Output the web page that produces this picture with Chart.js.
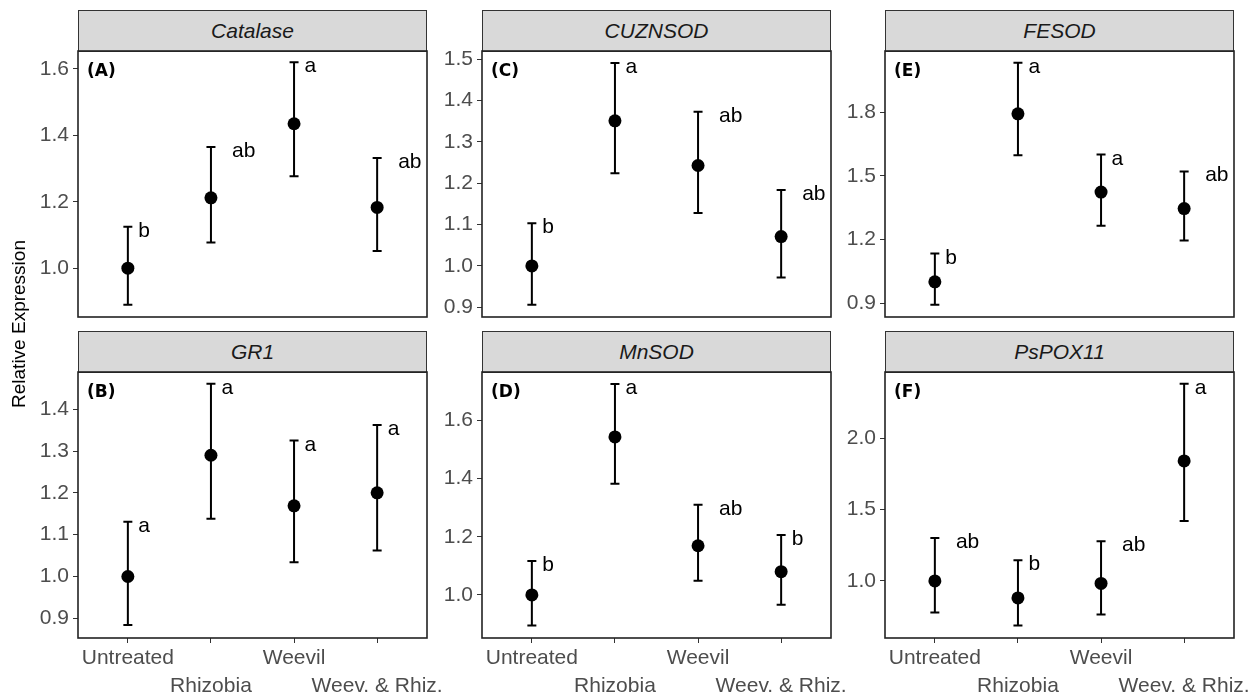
<!DOCTYPE html>
<html>
<head>
<meta charset="utf-8">
<script src="https://cdn.jsdelivr.net/npm/chart.js@4.4.0/dist/chart.umd.min.js"></script>
<style>
  body { margin: 0; background: #fff; width: 1256px; height: 696px; overflow: hidden; position: relative;
         font-family: 'Liberation Sans', Arial, sans-serif; }
  .panel { position: absolute; }
  .strip { position: absolute; box-sizing: border-box; background: #d9d9d9; border: 1px solid #333;
           text-align: center; font-style: italic; font-size: 21px; color: #1a1a1a; }
  .ytitle { position: absolute; width: 300px; height: 24px; line-height: 24px; text-align: center;
            font-size: 19px; color: #000; transform: rotate(-90deg); }
</style>
</head>
<body>
<script>
// Relative expression of antioxidant genes, 6 facets

const groups = ['Untreated', 'Rhizobia', 'Weevil', 'Weev. & Rhiz.'];

const catalaseMean  = [1.000, 1.212, 1.435, 1.183];
const catalaseLow   = [0.890, 1.077, 1.277, 1.052];
const catalaseHigh  = [1.125, 1.365, 1.620, 1.332];
const catalaseSig   = ['b', 'ab', 'a', 'ab'];
const catalaseTicks = [1.0, 1.2, 1.4, 1.6];
const catalaseRange = [0.853, 1.654];

const gr1Mean  = [1.000, 1.290, 1.169, 1.200];
const gr1Low   = [0.884, 1.138, 1.034, 1.062];
const gr1High  = [1.131, 1.461, 1.325, 1.362];
const gr1Sig   = ['a', 'a', 'a', 'a'];
const gr1Ticks = [0.9, 1.0, 1.1, 1.2, 1.3, 1.4];
const gr1Range = [0.853, 1.489];

const cuznsodMean  = [1.000, 1.351, 1.243, 1.071];
const cuznsodLow   = [0.906, 1.224, 1.128, 0.972];
const cuznsodHigh  = [1.103, 1.491, 1.373, 1.184];
const cuznsodSig   = ['b', 'a', 'ab', 'ab'];
const cuznsodTicks = [0.9, 1.0, 1.1, 1.2, 1.3, 1.4, 1.5];
const cuznsodRange = [0.8765, 1.520];

const mnsodMean  = [1.000, 1.543, 1.169, 1.080];
const mnsodLow   = [0.895, 1.382, 1.049, 0.966];
const mnsodHigh  = [1.117, 1.725, 1.310, 1.206];
const mnsodSig   = ['b', 'a', 'ab', 'b'];
const mnsodTicks = [1.0, 1.2, 1.4, 1.6];
const mnsodRange = [0.852, 1.766];

const fesodMean  = [1.000, 1.792, 1.423, 1.345];
const fesodLow   = [0.892, 1.596, 1.264, 1.195];
const fesodHigh  = [1.133, 2.033, 1.600, 1.520];
const fesodSig   = ['b', 'a', 'a', 'ab'];
const fesodTicks = [0.9, 1.2, 1.5, 1.8];
const fesodRange = [0.834, 2.088];

const pspoxMean  = [1.000, 0.881, 0.982, 1.840];
const pspoxLow   = [0.779, 0.688, 0.765, 1.420];
const pspoxHigh  = [1.300, 1.145, 1.278, 2.381];
const pspoxSig   = ['ab', 'b', 'ab', 'a'];
const pspoxTicks = [1.0, 1.5, 2.0];
const pspoxRange = [0.600, 2.463];

// layout of the facet grid (pixels)
const colLeft = [78, 482, 885];
const rowTop = [51, 372];
const boxW = 349;
const boxH = 266;
const stripH = 41;
const axisW = 78;
const xAxisH = 58;
const padR = 40;
const padV = 20;   // room for the padding Chart.js keeps around the y labels

const panels = [
    { gene: 'Catalase', tag: '(A)', col: 0, row: 0, mean: catalaseMean, low: catalaseLow, high: catalaseHigh, sig: catalaseSig, ticks: catalaseTicks, range: catalaseRange },
    { gene: 'GR1',      tag: '(B)', col: 0, row: 1, mean: gr1Mean, low: gr1Low, high: gr1High, sig: gr1Sig, ticks: gr1Ticks, range: gr1Range },
    { gene: 'CUZNSOD',  tag: '(C)', col: 1, row: 0, mean: cuznsodMean, low: cuznsodLow, high: cuznsodHigh, sig: cuznsodSig, ticks: cuznsodTicks, range: cuznsodRange },
    { gene: 'MnSOD',    tag: '(D)', col: 1, row: 1, mean: mnsodMean, low: mnsodLow, high: mnsodHigh, sig: mnsodSig, ticks: mnsodTicks, range: mnsodRange },
    { gene: 'FESOD',    tag: '(E)', col: 2, row: 0, mean: fesodMean, low: fesodLow, high: fesodHigh, sig: fesodSig, ticks: fesodTicks, range: fesodRange },
    { gene: 'PsPOX11',  tag: '(F)', col: 2, row: 1, mean: pspoxMean, low: pspoxLow, high: pspoxHigh, sig: pspoxSig, ticks: pspoxTicks, range: pspoxRange }
];

// error bars, significance letters, panel border and tag
const facetDecor = {
    id: 'facetDecor',
    beforeDatasetsDraw(chart, args, opts) {
        const ctx = chart.ctx;
        const x = chart.scales.x, y = chart.scales.y;
        ctx.save();
        ctx.strokeStyle = '#000';
        ctx.lineWidth = 2;
        opts.low.forEach((lo, i) => {
            const px = x.getPixelForValue(i + 1);
            const y0 = y.getPixelForValue(lo);
            const y1 = y.getPixelForValue(opts.high[i]);
            ctx.beginPath();
            ctx.moveTo(px, y0); ctx.lineTo(px, y1);
            ctx.moveTo(px - 4.5, y0); ctx.lineTo(px + 4.5, y0);
            ctx.moveTo(px - 4.5, y1); ctx.lineTo(px + 4.5, y1);
            ctx.stroke();
        });
        ctx.restore();
    },
    afterDatasetsDraw(chart, args, opts) {
        const ctx = chart.ctx;
        const area = chart.chartArea;
        const x = chart.scales.x, y = chart.scales.y;
        ctx.save();
        ctx.fillStyle = '#000';
        ctx.font = '21px "Liberation Sans", Arial, sans-serif';
        ctx.textAlign = 'left';
        ctx.textBaseline = 'alphabetic';
        opts.sig.forEach((s, i) => {
            const w = ctx.measureText(s).width;
            const px = x.getPixelForValue(i + 1);
            const py = y.getPixelForValue(opts.high[i]);
            ctx.fillText(s, px + w * 0.9, py + 10);
        });
        ctx.font = 'bold 17px "DejaVu Sans", sans-serif';
        ctx.textBaseline = 'middle';
        ctx.fillText(opts.tag, area.left + 9, area.top + 21);
        ctx.strokeStyle = '#222';
        ctx.lineWidth = 1.6;
        ctx.strokeRect(area.left, area.top, area.right - area.left, area.bottom - area.top);
        ctx.restore();
    }
};

function makePanel(p) {
    const boxL = colLeft[p.col];
    const boxT = rowTop[p.row];
    const bottomRow = p.row === 1;

    const strip = document.createElement('div');
    strip.className = 'strip';
    strip.style.left = boxL + 'px';
    strip.style.top = (boxT - stripH) + 'px';
    strip.style.width = boxW + 'px';
    strip.style.height = (stripH + 1) + 'px';
    strip.style.lineHeight = (stripH - 1) + 'px';
    strip.textContent = p.gene;
    document.body.appendChild(strip);

    const w = axisW + boxW + padR;
    const h = padV + boxH + (bottomRow ? xAxisH : padV);
    const wrap = document.createElement('div');
    wrap.className = 'panel';
    wrap.style.left = (boxL - axisW) + 'px';
    wrap.style.top = (boxT - padV) + 'px';
    const canvas = document.createElement('canvas');
    canvas.width = w; canvas.height = h;
    canvas.style.width = w + 'px'; canvas.style.height = h + 'px';
    wrap.appendChild(canvas);
    document.body.appendChild(wrap);

    const tickFont = { family: '"Liberation Sans", Arial, sans-serif', size: 21, lineHeight: 1.3 };

    new Chart(canvas, {
        type: 'scatter',
        data: {
            datasets: [{
                data: p.mean.map((v, i) => ({ x: i + 1, y: v })),
                pointRadius: 6.5,
                pointHoverRadius: 6.5,
                pointBackgroundColor: '#000',
                pointBorderWidth: 0
            }]
        },
        options: {
            responsive: false,
            animation: false,
            events: [],
            layout: { autoPadding: false, padding: { left: 0, right: padR, top: padV, bottom: bottomRow ? 0 : padV } },
            plugins: {
                legend: { display: false },
                tooltip: { enabled: false },
                facetDecor: { low: p.low, high: p.high, sig: p.sig, tag: p.tag }
            },
            scales: {
                x: {
                    type: 'linear',
                    min: 0.4,
                    max: 4.6,
                    display: bottomRow,
                    afterBuildTicks: s => { s.ticks = groups.map((g, i) => ({ value: i + 1 })); },
                    afterFit: s => { s.height = bottomRow ? xAxisH : 0; },
                    ticks: {
                        autoSkip: false,
                        maxRotation: 0,
                        padding: 2,
                        color: '#4d4d4d',
                        font: tickFont,
                        callback: (v, i) => (i % 2 ? ['', groups[i]] : groups[i])
                    },
                    grid: { display: true, drawOnChartArea: false, drawTicks: true, tickLength: 5, color: '#333' },
                    border: { display: false }
                },
                y: {
                    min: p.range[0],
                    max: p.range[1],
                    afterBuildTicks: s => { s.ticks = p.ticks.map(v => ({ value: v })); },
                    afterFit: s => { s.width = axisW; },
                    ticks: {
                        padding: 4,
                        color: '#4d4d4d',
                        font: tickFont,
                        callback: v => v.toFixed(1)
                    },
                    grid: { display: true, drawOnChartArea: false, drawTicks: true, tickLength: 5, color: '#333' },
                    border: { display: false }
                }
            }
        },
        plugins: [facetDecor]
    });
}

panels.forEach(makePanel);

const title = document.createElement('div');
title.className = 'ytitle';
title.style.left = (19 - 150) + 'px';
title.style.top = (324 - 12) + 'px';
title.textContent = 'Relative Expression';
document.body.appendChild(title);
</script>
</body>
</html>
